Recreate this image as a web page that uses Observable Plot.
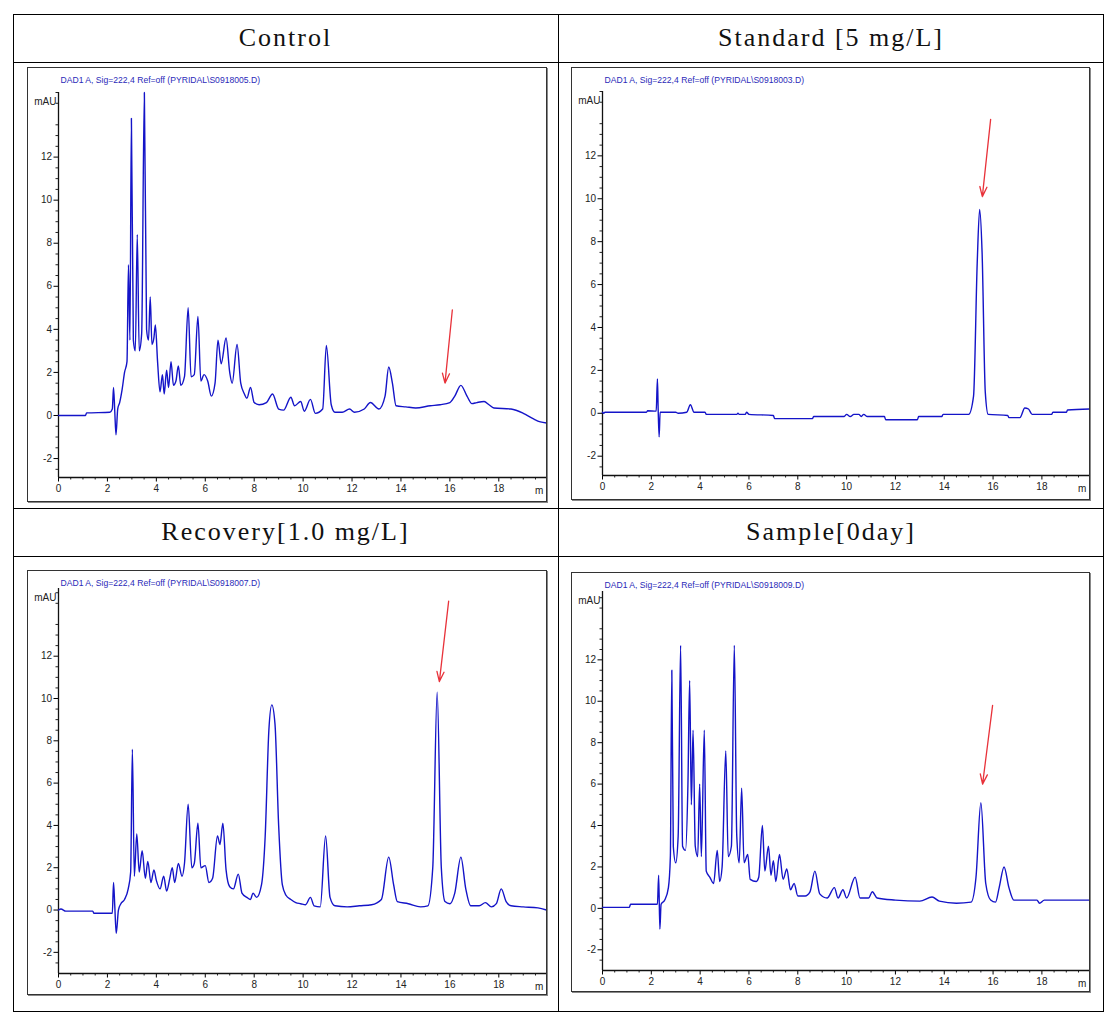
<!DOCTYPE html>
<html>
<head>
<meta charset="utf-8">
<script src="https://cdn.jsdelivr.net/npm/d3@7"></script>
<script src="https://cdn.jsdelivr.net/npm/@observablehq/plot@0.6"></script>
<style>
  html, body { margin: 0; padding: 0; background: #fff; }
  #page { position: relative; width: 1117px; height: 1023px; background: #fff; overflow: hidden; }
  .hline { position: absolute; left: 13px; width: 1091px; height: 0; border-top: 1px solid #000; }
  .vline { position: absolute; top: 14px; height: 998px; width: 0; border-left: 1px solid #000; }
  .outer { position: absolute; left: 13px; top: 14px; width: 1091px; height: 998px; border: 1px solid #000; box-sizing: border-box; }
  .head { position: absolute; height: 48px; line-height: 48px; text-align: center;
          font-family: "Liberation Serif", "DejaVu Serif", serif; font-size: 26px; letter-spacing: 2px; color: #111; }
  .frame { position: absolute; border: 1.5px solid #333; box-sizing: border-box; pointer-events: none;
           box-shadow: 1px 1px 0 #888; }
</style>
</head>
<body>
<div id="page">
  <div class="outer"></div>
  <div class="vline" style="left:558px"></div>
  <div class="hline" style="top:62px"></div>
  <div class="hline" style="top:508px"></div>
  <div class="hline" style="top:556px"></div>
</div>
<script>
// ---- headings ----
const headings = ["Control", "Standard [5 mg/L]", "Recovery[1.0 mg/L]", "Sample[0day]"];
const fileNames = ["PYRIDAL\\S0918005.D", "PYRIDAL\\S0918003.D", "PYRIDAL\\S0918007.D", "PYRIDAL\\S0918009.D"];

// ---- axis ticks ----
const xMajorTicks = [0, 2, 4, 6, 8, 10, 12, 14, 16, 18];
const yMajorTicks = [-2, 0, 2, 4, 6, 8, 10, 12];

// ---- chromatogram traces: [retention time (min), signal (mAU)] ----
const controlTrace = [[0,0],[1.1,0],[1.15,0.12],[2.1,0.15],[2.2,0.3],[2.25,1.3],[2.3,0.2],[2.35,-0.9],[2.42,0.3],[2.5,0.6],[2.6,1.2],[2.7,2.0],[2.8,2.5],[2.86,7.0],[2.92,3.5],[2.98,13.8],[3.06,3.5],[3.14,3.0],[3.22,8.4],[3.3,3.0],[3.4,3.8],[3.51,15.0],[3.6,4.0],[3.68,3.5],[3.75,5.5],[3.82,3.3],[3.9,3.6],[3.96,4.2],[4.05,2.5],[4.15,1.1],[4.25,1.9],[4.32,1.0],[4.42,2.1],[4.5,1.3],[4.6,2.5],[4.7,1.4],[4.8,1.6],[4.9,2.3],[5.0,1.4],[5.15,1.8],[5.3,5.0],[5.42,1.8],[5.55,1.9],[5.7,4.6],[5.82,1.6],[5.95,1.9],[6.1,1.6],[6.25,0.9],[6.4,1.5],[6.52,3.5],[6.65,2.4],[6.85,3.6],[7.0,2.0],[7.1,1.5],[7.3,3.3],[7.45,1.5],[7.6,1.0],[7.7,0.8],[7.85,1.3],[8.0,0.6],[8.2,0.5],[8.5,0.6],[8.75,1.0],[9.0,0.3],[9.2,0.25],[9.5,0.85],[9.65,0.45],[9.9,0.65],[10.05,0.2],[10.3,0.75],[10.5,0.1],[10.8,0.3],[10.95,3.25],[11.15,0.5],[11.3,0.15],[11.6,0.15],[11.9,0.3],[12.1,0.15],[12.5,0.3],[12.75,0.6],[13.1,0.3],[13.35,0.9],[13.5,2.25],[13.65,1.5],[13.8,0.45],[14.2,0.4],[14.6,0.35],[15.2,0.45],[15.6,0.5],[16.0,0.6],[16.2,0.9],[16.45,1.4],[16.7,0.9],[16.9,0.55],[17.1,0.6],[17.4,0.65],[17.6,0.5],[17.8,0.35],[18.5,0.3],[19.0,0.1],[19.4,-0.15],[19.7,-0.3],[19.95,-0.35]];

const standardTrace = [[0,0.05],[0.05,0.0],[0.1,0.05],[1.8,0.05],[1.85,0.12],[2.2,0.1],[2.25,1.6],[2.28,0.2],[2.32,-1.1],[2.36,0.05],[3.0,0.05],[3.1,0.0],[3.45,0.05],[3.6,0.4],[3.75,0.05],[4.2,0.05],[4.25,-0.05],[5.5,-0.05],[5.55,0.0],[5.6,-0.05],[5.85,-0.05],[5.9,0.05],[6.0,-0.05],[7.0,-0.1],[7.05,-0.25],[8.6,-0.25],[8.65,-0.15],[9.9,-0.15],[10.0,-0.05],[10.15,-0.15],[10.3,-0.05],[10.5,-0.05],[10.6,-0.15],[10.7,-0.05],[10.85,-0.15],[11.55,-0.15],[11.6,-0.3],[12.9,-0.3],[12.95,-0.15],[13.9,-0.15],[13.95,-0.05],[15.0,-0.05],[15.2,0.8],[15.35,7.0],[15.45,9.5],[15.55,7.5],[15.68,1.0],[15.8,-0.05],[16.6,-0.1],[16.65,-0.2],[17.1,-0.2],[17.3,0.25],[17.45,0.2],[17.6,-0.05],[18.4,-0.05],[18.45,0.05],[19.0,0.05],[19.05,0.15],[19.95,0.2]];

const recoveryTrace = [[0,0],[0.1,0.05],[0.3,-0.05],[1.4,-0.05],[1.45,-0.15],[2.2,-0.15],[2.25,1.3],[2.3,0.2],[2.36,-1.1],[2.45,0.0],[2.55,0.3],[2.7,0.5],[2.85,1.0],[2.95,1.8],[3.02,7.6],[3.1,1.6],[3.2,3.6],[3.3,1.8],[3.42,2.8],[3.55,1.5],[3.65,2.3],[3.78,1.3],[3.9,1.9],[4.0,1.4],[4.15,1.0],[4.3,1.6],[4.42,0.9],[4.55,1.5],[4.65,2.0],[4.75,1.3],[4.9,2.2],[5.05,1.6],[5.15,2.2],[5.3,5.0],[5.45,2.0],[5.55,2.2],[5.7,4.1],[5.82,2.0],[6.0,2.1],[6.15,1.3],[6.3,1.5],[6.5,3.5],[6.6,3.1],[6.72,4.1],[6.85,1.9],[7.0,1.1],[7.15,1.0],[7.35,1.7],[7.5,0.8],[7.7,0.6],[7.85,0.5],[7.95,0.8],[8.1,0.6],[8.3,1.2],[8.45,3.5],[8.6,8.5],[8.72,9.7],[8.85,8.8],[9.0,4.0],[9.15,1.2],[9.3,0.7],[9.5,0.5],[9.7,0.35],[9.9,0.3],[10.1,0.25],[10.3,0.6],[10.45,0.2],[10.7,0.15],[10.92,3.5],[11.1,0.6],[11.3,0.2],[11.8,0.15],[12.3,0.2],[12.8,0.25],[13.2,0.5],[13.5,2.5],[13.7,1.2],[13.85,0.4],[14.3,0.3],[14.8,0.15],[15.1,0.2],[15.3,2.0],[15.48,10.3],[15.65,2.0],[15.8,0.4],[16.0,0.3],[16.2,0.8],[16.45,2.5],[16.65,1.0],[16.85,0.2],[17.2,0.2],[17.45,0.35],[17.7,0.15],[17.9,0.3],[18.1,1.0],[18.3,0.4],[18.5,0.2],[19.0,0.15],[19.6,0.1],[19.95,0.0]];

const sampleTrace = [[0,0.05],[1.1,0.05],[1.15,0.2],[2.25,0.2],[2.3,1.6],[2.35,-1.0],[2.4,0.2],[2.55,0.4],[2.7,1.0],[2.78,2.5],[2.84,11.5],[2.9,3.0],[3.0,2.2],[3.1,3.5],[3.2,12.7],[3.28,3.0],[3.4,2.8],[3.5,6.0],[3.57,11.0],[3.64,5.0],[3.71,8.6],[3.8,3.0],[3.9,2.5],[3.98,6.0],[4.05,2.5],[4.17,8.6],[4.25,1.8],[4.4,1.5],[4.55,1.2],[4.7,2.8],[4.8,1.3],[4.9,2.0],[5.05,7.6],[5.15,2.5],[5.28,3.0],[5.4,12.7],[5.5,3.5],[5.6,2.2],[5.7,5.8],[5.8,2.2],[5.95,2.6],[6.05,1.4],[6.3,1.3],[6.4,1.5],[6.55,4.0],[6.65,1.8],[6.8,3.0],[6.9,1.6],[7.0,2.3],[7.1,1.3],[7.25,2.6],[7.4,1.4],[7.55,1.9],[7.7,0.9],[7.85,1.2],[8.0,0.6],[8.3,0.6],[8.5,0.8],[8.7,1.8],[8.9,0.7],[9.2,0.5],[9.5,1.0],[9.65,0.5],[9.85,0.9],[10.0,0.5],[10.35,1.5],[10.55,0.5],[10.9,0.5],[11.05,0.8],[11.25,0.5],[12.0,0.4],[13.0,0.35],[13.5,0.55],[13.8,0.35],[14.5,0.25],[15.1,0.3],[15.3,1.5],[15.5,5.1],[15.7,1.2],[15.9,0.4],[16.1,0.3],[16.25,1.0],[16.45,2.0],[16.65,1.0],[16.85,0.4],[17.5,0.4],[17.8,0.4],[17.9,0.25],[18.1,0.4],[19.95,0.4]];

// ---- red arrows marking the analyte peak: [x1, y1, x2, y2] ----
const controlArrow  = [16.1, 4.9, 15.8, 1.5];
const standardArrow = [15.9, 13.7, 15.56, 10.1];
const recoveryArrow = [15.95, 14.6, 15.57, 10.8];
const sampleArrow   = [15.98, 9.8, 15.57, 6.0];

// ---- layout ----
const panels = [
  {trace: controlTrace,  arrow: controlArrow,  file: fileNames[0], left: 27,  top: 67,  w: 520, h: 435, mt: 25, mb: 25, y: [-2.88, 15.0]},
  {trace: standardTrace, arrow: standardArrow, file: fileNames[1], left: 571, top: 67,  w: 519, h: 433, mt: 24, mb: 25, y: [-2.9, 15.0]},
  {trace: recoveryTrace, arrow: recoveryArrow, file: fileNames[2], left: 27,  top: 570, w: 520, h: 425, mt: 18, mb: 22, y: [-3.0, 15.2]},
  {trace: sampleTrace,   arrow: sampleArrow,   file: fileNames[3], left: 571, top: 572, w: 519, h: 420, mt: 19, mb: 22, y: [-3.0, 15.3]}
];
const headPos = [
  {left: 13, top: 14, w: 545}, {left: 558, top: 14, w: 546},
  {left: 13, top: 508, w: 545}, {left: 558, top: 508, w: 546}
];

const page = document.getElementById("page");
headings.forEach((t, i) => {
  const d = document.createElement("div");
  d.className = "head";
  d.style.left = headPos[i].left + "px";
  d.style.top = headPos[i].top + "px";
  d.style.width = headPos[i].w + "px";
  d.textContent = t;
  page.appendChild(d);
});

const xMinor = d3.range(0.5, 19.9, 0.5).filter(v => v % 2 !== 0);

panels.forEach(p => {
  const yMinor = d3.range(-2.5, p.y[1] + 0.01, 0.5).filter(v => v % 2 !== 0);
  const chart = Plot.plot({
    width: p.w, height: p.h,
    marginLeft: 31, marginRight: 1, marginTop: p.mt, marginBottom: p.mb,
    x: {domain: [0, 19.95]},
    y: {domain: p.y},
    style: {fontFamily: "Liberation Sans, Arial, sans-serif", fontSize: "10px", background: "transparent", overflow: "visible"},
    marks: [
      Plot.axisX({ticks: xMinor, tickSize: 2.5, tickFormat: () => "", label: null, stroke: "#222"}),
      Plot.axisX({ticks: xMajorTicks, tickSize: 4.5, tickPadding: 3, tickFormat: d => String(d), label: null, fill: "#222", fontSize: 10}),
      Plot.axisY({ticks: yMinor, tickSize: 2.5, tickFormat: () => "", label: null, stroke: "#222"}),
      Plot.axisY({ticks: yMajorTicks, tickSize: 4.5, tickPadding: 2, tickFormat: d => String(d), label: null, fill: "#222", fontSize: 10}),
      Plot.ruleY([p.y[0]], {stroke: "#111", strokeWidth: 1.3}),
      Plot.ruleX([0], {stroke: "#111", strokeWidth: 1.3}),
      Plot.line(p.trace, {x: d => d[0], y: d => d[1], stroke: "#1414c8", strokeWidth: 1.4, curve: "monotone-x"}),
      Plot.arrow([p.arrow], {x1: d => d[0], y1: d => d[1], x2: d => d[2], y2: d => d[3],
        stroke: "#e8323a", strokeWidth: 1.3, headLength: 12, headAngle: 40}),
      Plot.text(["m"], {x: 19.65, y: p.y[0], dy: 13, fill: "#222", fontSize: 10}),
      Plot.text(["mAU"], {x: 0, y: p.y[1], dx: -2, dy: 9, textAnchor: "end", fill: "#222", fontSize: 10}),
      Plot.text(["DAD1 A, Sig=222,4 Ref=off (" + p.file + ")"], {frameAnchor: "top-left", dx: 2, dy: -(p.mt - 9),
        fill: "#2a2ab8", fontSize: 8.6, textAnchor: "start"})
    ]
  });
  chart.style.position = "absolute";
  chart.style.left = p.left + "px";
  chart.style.top = p.top + "px";
  page.appendChild(chart);
  const f = document.createElement("div");
  f.className = "frame";
  f.style.left = p.left + "px";
  f.style.top = p.top + "px";
  f.style.width = p.w + "px";
  f.style.height = p.h + "px";
  page.appendChild(f);
});
</script>
</body>
</html>
